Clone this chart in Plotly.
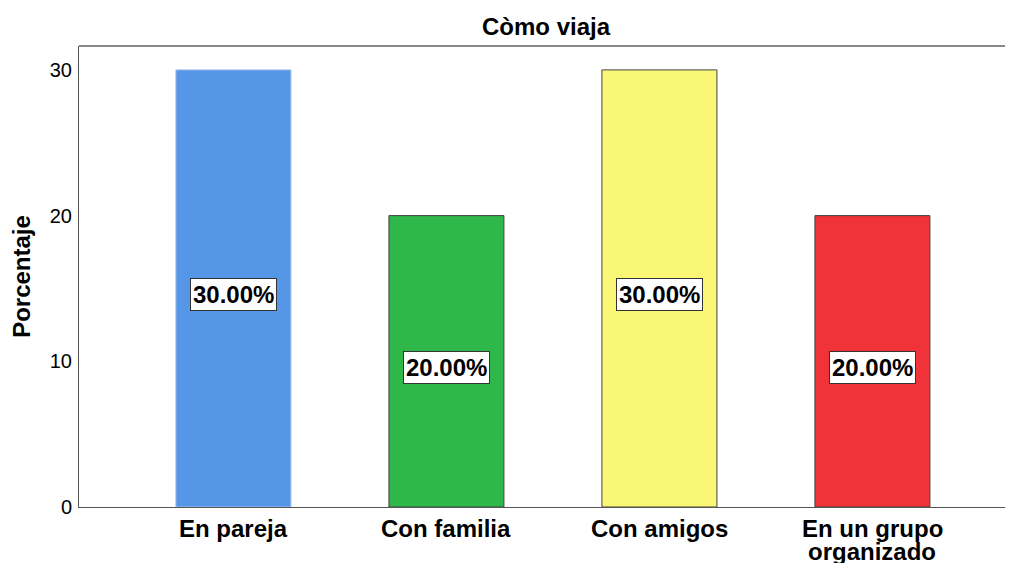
import plotly.graph_objects as go

categories = ["En pareja", "Con familia", "Con amigos", "En un grupo\norganizado"]
values = [30.0, 20.0, 30.0, 20.0]
labels = ["30.00%", "20.00%", "30.00%", "20.00%"]
bar_colors = ["#5596E6", "#2EB84A", "#FAF776", "#EF3339"]
edge_colors = ["#9cc0ee", "#444444", "#444444", "#444444"]
y_ticks = [0, 10, 20, 30]

FONT = "Liberation Sans, Arial, sans-serif"
BOLD_SIZE = 24
# the page body has an 8px margin, so the figure is drawn 8px in from the corner
W, H = 1005, 555

fig = go.Figure()
fig.add_trace(go.Bar(
    x=list(range(len(categories))),
    y=values,
    width=0.54,
    marker=dict(color=bar_colors, line=dict(color=edge_colors, width=1)),
    hoverinfo="skip",
))

for i, (v, t) in enumerate(zip(values, labels)):
    fig.add_annotation(
        x=i, y=v / 2, text="<b>%s</b>" % t, showarrow=False, yshift=-6,
        font=dict(family=FONT, size=BOLD_SIZE, color="black"),
        bgcolor="white", bordercolor="#333333", borderwidth=1, borderpad=2,
    )

# category labels (one annotation per text line, tight line spacing)
for i, c in enumerate(categories):
    for j, line in enumerate(c.split("\n")):
        fig.add_annotation(
            x=i, xref="x", y=0, yref="paper", yanchor="middle",
            yshift=-21 - 23 * j, text="<b>%s</b>" % line, showarrow=False,
            font=dict(family=FONT, size=BOLD_SIZE, color="black"),
        )

fig.add_shape(type="line", xref="paper", yref="paper", x0=0, x1=1, y0=1, y1=1,
              line=dict(color="#888888", width=2))

fig.update_layout(
    width=W, height=H,
    margin=dict(l=71, r=0, t=38, b=56, autoexpand=False),
    plot_bgcolor="white", paper_bgcolor="white",
    showlegend=False,
    title=dict(text="<b>Còmo viaja</b>", x=0.5, xanchor="center", xref="paper",
               y=1 - 19 / H, yanchor="middle", automargin=False,
               font=dict(family=FONT, size=BOLD_SIZE, color="black")),
    font=dict(family=FONT, color="black"),
    xaxis=dict(
        range=[-0.725, 3.66], automargin=False,
        tickmode="array", tickvals=list(range(len(categories))), ticktext=["" for c in categories],
        showgrid=False, zeroline=False, showline=True, linecolor="#555555", linewidth=1,
        ticks="", fixedrange=True,
    ),
    yaxis=dict(
        range=[0, 31.64], automargin=False,
        tickmode="array", tickvals=y_ticks, ticktext=[str(t) for t in y_ticks],
        tickfont=dict(family=FONT, size=20, color="black"),
        showgrid=False, zeroline=False, showline=True, linecolor="#555555", linewidth=1,
        ticks="", ticklabelstandoff=2,
        title=dict(text="<b>Porcentaje</b>", font=dict(family=FONT, size=BOLD_SIZE, color="black"), standoff=12),
    ),
)

fig.write_html("out.html")
